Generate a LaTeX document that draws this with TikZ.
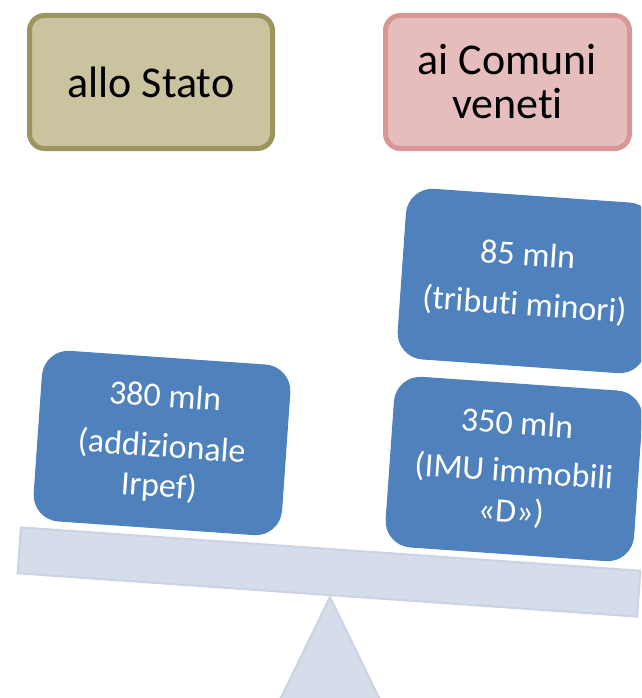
\documentclass[tikz,border=0pt]{standalone}
\usepackage{fontspec}
\setmainfont{Carlito}[RawFeature={-liga;-clig;-dlig;-calt}]
\definecolor{olivefill}{HTML}{C9C39F}
\definecolor{oliveline}{HTML}{9B9560}
\definecolor{pinkfill}{HTML}{E6BDBD}
\definecolor{pinkline}{HTML}{D99694}
\definecolor{bluefill}{HTML}{4F81BD}
\definecolor{beamfill}{HTML}{D5DCEA}
\definecolor{beamline}{HTML}{CBD3E5}
\tikzset{
  topbox/.style={rounded corners=15pt, line width=5pt, minimum width=243pt, minimum height=133pt,
    align=center, font=\fontsize{44}{44}\selectfont, text=black, inner sep=0pt},
  weight/.style={rounded corners=26pt, fill=bluefill, draw=bluefill, line width=1pt,
    minimum width=248pt, minimum height=170pt, rotate=-4, align=center,
    font=\fontsize{34}{40}\selectfont, text=white, inner sep=0pt},
  beamstyle/.style={fill=beamfill, draw=beamline, line width=2pt, minimum width=621pt,
    minimum height=46pt, rotate=-4, inner sep=0pt},
  fulcrum/.style={fill=beamfill, draw=beamline, line width=2pt, line join=round}
}
\begin{document}
\begin{tikzpicture}[x=1pt,y=-1pt]
\useasboundingbox (0,0) rectangle (641,698);
\clip (0,0) rectangle (641,698);
\node[topbox, fill=olivefill, draw=oliveline] (stato) at (151,82) {allo Stato};
\node[topbox, fill=pinkfill, draw=pinkline, minimum width=244pt] (comuni) at (507.5,82) {ai Comuni\\venet\kern0pt i};
\draw[fulcrum] (330,597) -- (275,710) -- (385,710) -- cycle;
\node[beamstyle] (beam) at (329,572) {};
\node[weight] (irpef) at (162,443) {380 mln\\[10pt](addizionale\\Irpef)};
\node[weight] (tributi) at (526,281) {85 mln\\[10pt](tribut\kern0pt i minori)};
\node[weight] (imu) at (514,469) {350 mln\\[8pt](IMU immobili\\«D»)};
\end{tikzpicture}
\end{document}
